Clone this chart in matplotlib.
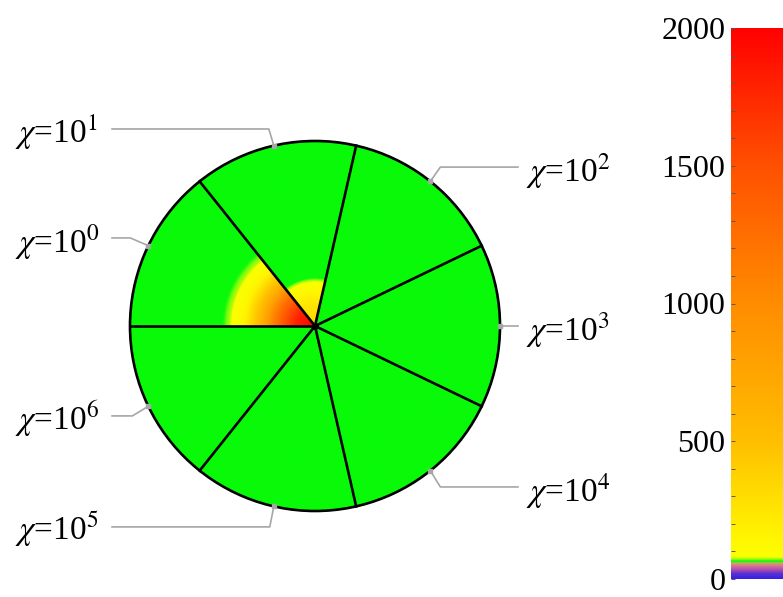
import numpy as np
import matplotlib
matplotlib.use('Agg')
import matplotlib.pyplot as plt
from matplotlib.colors import LinearSegmentedColormap, Normalize
from matplotlib.patches import Circle
from matplotlib.cm import ScalarMappable
from matplotlib.ticker import MultipleLocator

plt.rcParams['font.family'] = ['Liberation Serif', 'DejaVu Serif']
plt.rcParams['mathtext.fontset'] = 'stix'

# one sector per chi value, clockwise from the negative x axis
exponents = [0, 1, 2, 3, 4, 5, 6]

# radial temperature profiles (r / R) for each sector
r_knots = [0.0, 0.1, 0.15, 0.2, 0.23, 0.26, 0.3, 0.38, 0.42, 0.46, 0.5, 1.0]
temp_profiles = [
    [2000, 1800, 1550, 1250, 1050, 800, 550, 170, 100, 75, 65, 65],
    [360, 260, 200, 120, 85, 65, 65, 65, 65, 65, 65, 65],
    [65, 65, 65, 65, 65, 65, 65, 65, 65, 65, 65, 65],
    [65, 65, 65, 65, 65, 65, 65, 65, 65, 65, 65, 65],
    [65, 65, 65, 65, 65, 65, 65, 65, 65, 65, 65, 65],
    [65, 65, 65, 65, 65, 65, 65, 65, 65, 65, 65, 65],
    [65, 65, 65, 65, 65, 65, 65, 65, 65, 65, 65, 65],
]
vmin, vmax = 0, 2000
cbar_ticks = [0, 500, 1000, 1500, 2000]

# label leader lines: height of the horizontal run and elbow offset
leader_y = [0.476, 1.065, 0.859, 0.0, -0.870, -1.086, -0.486]
elbow_dx = [-0.097, -0.027, 0.054, 0.0, 0.054, -0.022, -0.086]

cmap_nodes = [
    (0, (50, 30, 230)),
    (20, (90, 50, 210)),
    (35, (180, 80, 170)),
    (50, (225, 120, 140)),
    (58, (170, 190, 80)),
    (65, (10, 250, 10)),
    (70, (120, 252, 10)),
    (80, (250, 255, 0)),
    (150, (255, 245, 0)),
    (500, (255, 190, 0)),
    (1000, (255, 140, 0)),
    (1500, (255, 80, 0)),
    (2000, (255, 0, 0)),
]
cmap = LinearSegmentedColormap.from_list(
    'thermal', [((v - vmin) / (vmax - vmin), tuple(c / 255 for c in rgb)) for v, rgb in cmap_nodes],
    N=4001)
norm = Normalize(vmin, vmax)

W, H = 783, 597
fig = plt.figure(figsize=(W / 100, H / 100), dpi=100)

# main axes: unit circle at pixel (315, 326), 185 px per unit
scale, cx, cy = 185.0, 315.0, 326.0
ax_w = 700
ax = fig.add_axes([0, 0, ax_w / W, 1])
ax.set_xlim(-cx / scale, (ax_w - cx) / scale)
ax.set_ylim((cy - H) / scale, cy / scale)
ax.set_aspect('equal')
ax.axis('off')

n = len(exponents)
step = 360.0 / n

# temperature field
g = np.linspace(-1, 1, 700)
X, Y = np.meshgrid(g, g)
R = np.hypot(X, Y)
theta = np.degrees(np.arctan2(Y, X))
sector = (((180.0 - theta) % 360.0) // step).astype(int).clip(0, n - 1)
field = np.zeros_like(R)
for k in range(n):
    m = sector == k
    field[m] = np.interp(R[m], r_knots, temp_profiles[k])

disk = Circle((0, 0), 1.0, facecolor='none', edgecolor='black', lw=1.9, zorder=3)
ax.add_patch(disk)
im = ax.imshow(field, extent=(-1, 1, -1, 1), origin='lower', cmap=cmap, norm=norm,
               interpolation='bilinear', zorder=1)
im.set_clip_path(disk)

# sector boundaries
for k in range(n):
    a = np.radians(180.0 - k * step)
    ax.plot([0, np.cos(a)], [0, np.sin(a)], color='black', lw=1.9, zorder=4)
ax.plot(0, 0, 'o', color='black', ms=4, zorder=5)

# labels with leader lines
end_x = 1.097
for k, e in enumerate(exponents):
    a = np.radians(180.0 - (k + 0.5) * step)
    px, py = np.cos(a), np.sin(a)
    side = -1 if px < 0 else 1
    ex = side * end_x
    ax.plot([px, px + elbow_dx[k], ex], [py, leader_y[k], leader_y[k]],
            color='#a6a6a6', lw=1.2, zorder=2)
    ax.plot(px, py, 's', color='#a6a6a6', ms=3.5, zorder=6)
    label = r'$\chi$=10$^{%d}$' % e
    tx = -1.622 if side < 0 else 1.141
    ax.text(tx, leader_y[k] - 0.076, label, fontsize=24, ha='left', va='baseline')

# colour bar, running off the right edge
cax = fig.add_axes([731 / W, 18 / H, 80 / W, 551 / H])
sm = ScalarMappable(norm=norm, cmap=cmap)
cb = fig.colorbar(sm, cax=cax)
cb.outline.set_visible(False)
cax.yaxis.set_ticks_position('left')
cax.set_yticks(cbar_ticks)
cax.yaxis.set_minor_locator(MultipleLocator(100))
cax.tick_params(which='both', direction='in', length=3, width=0.7, color='0.35',
                labelsize=23, pad=4)

fig.savefig('out.png', dpi=100)
